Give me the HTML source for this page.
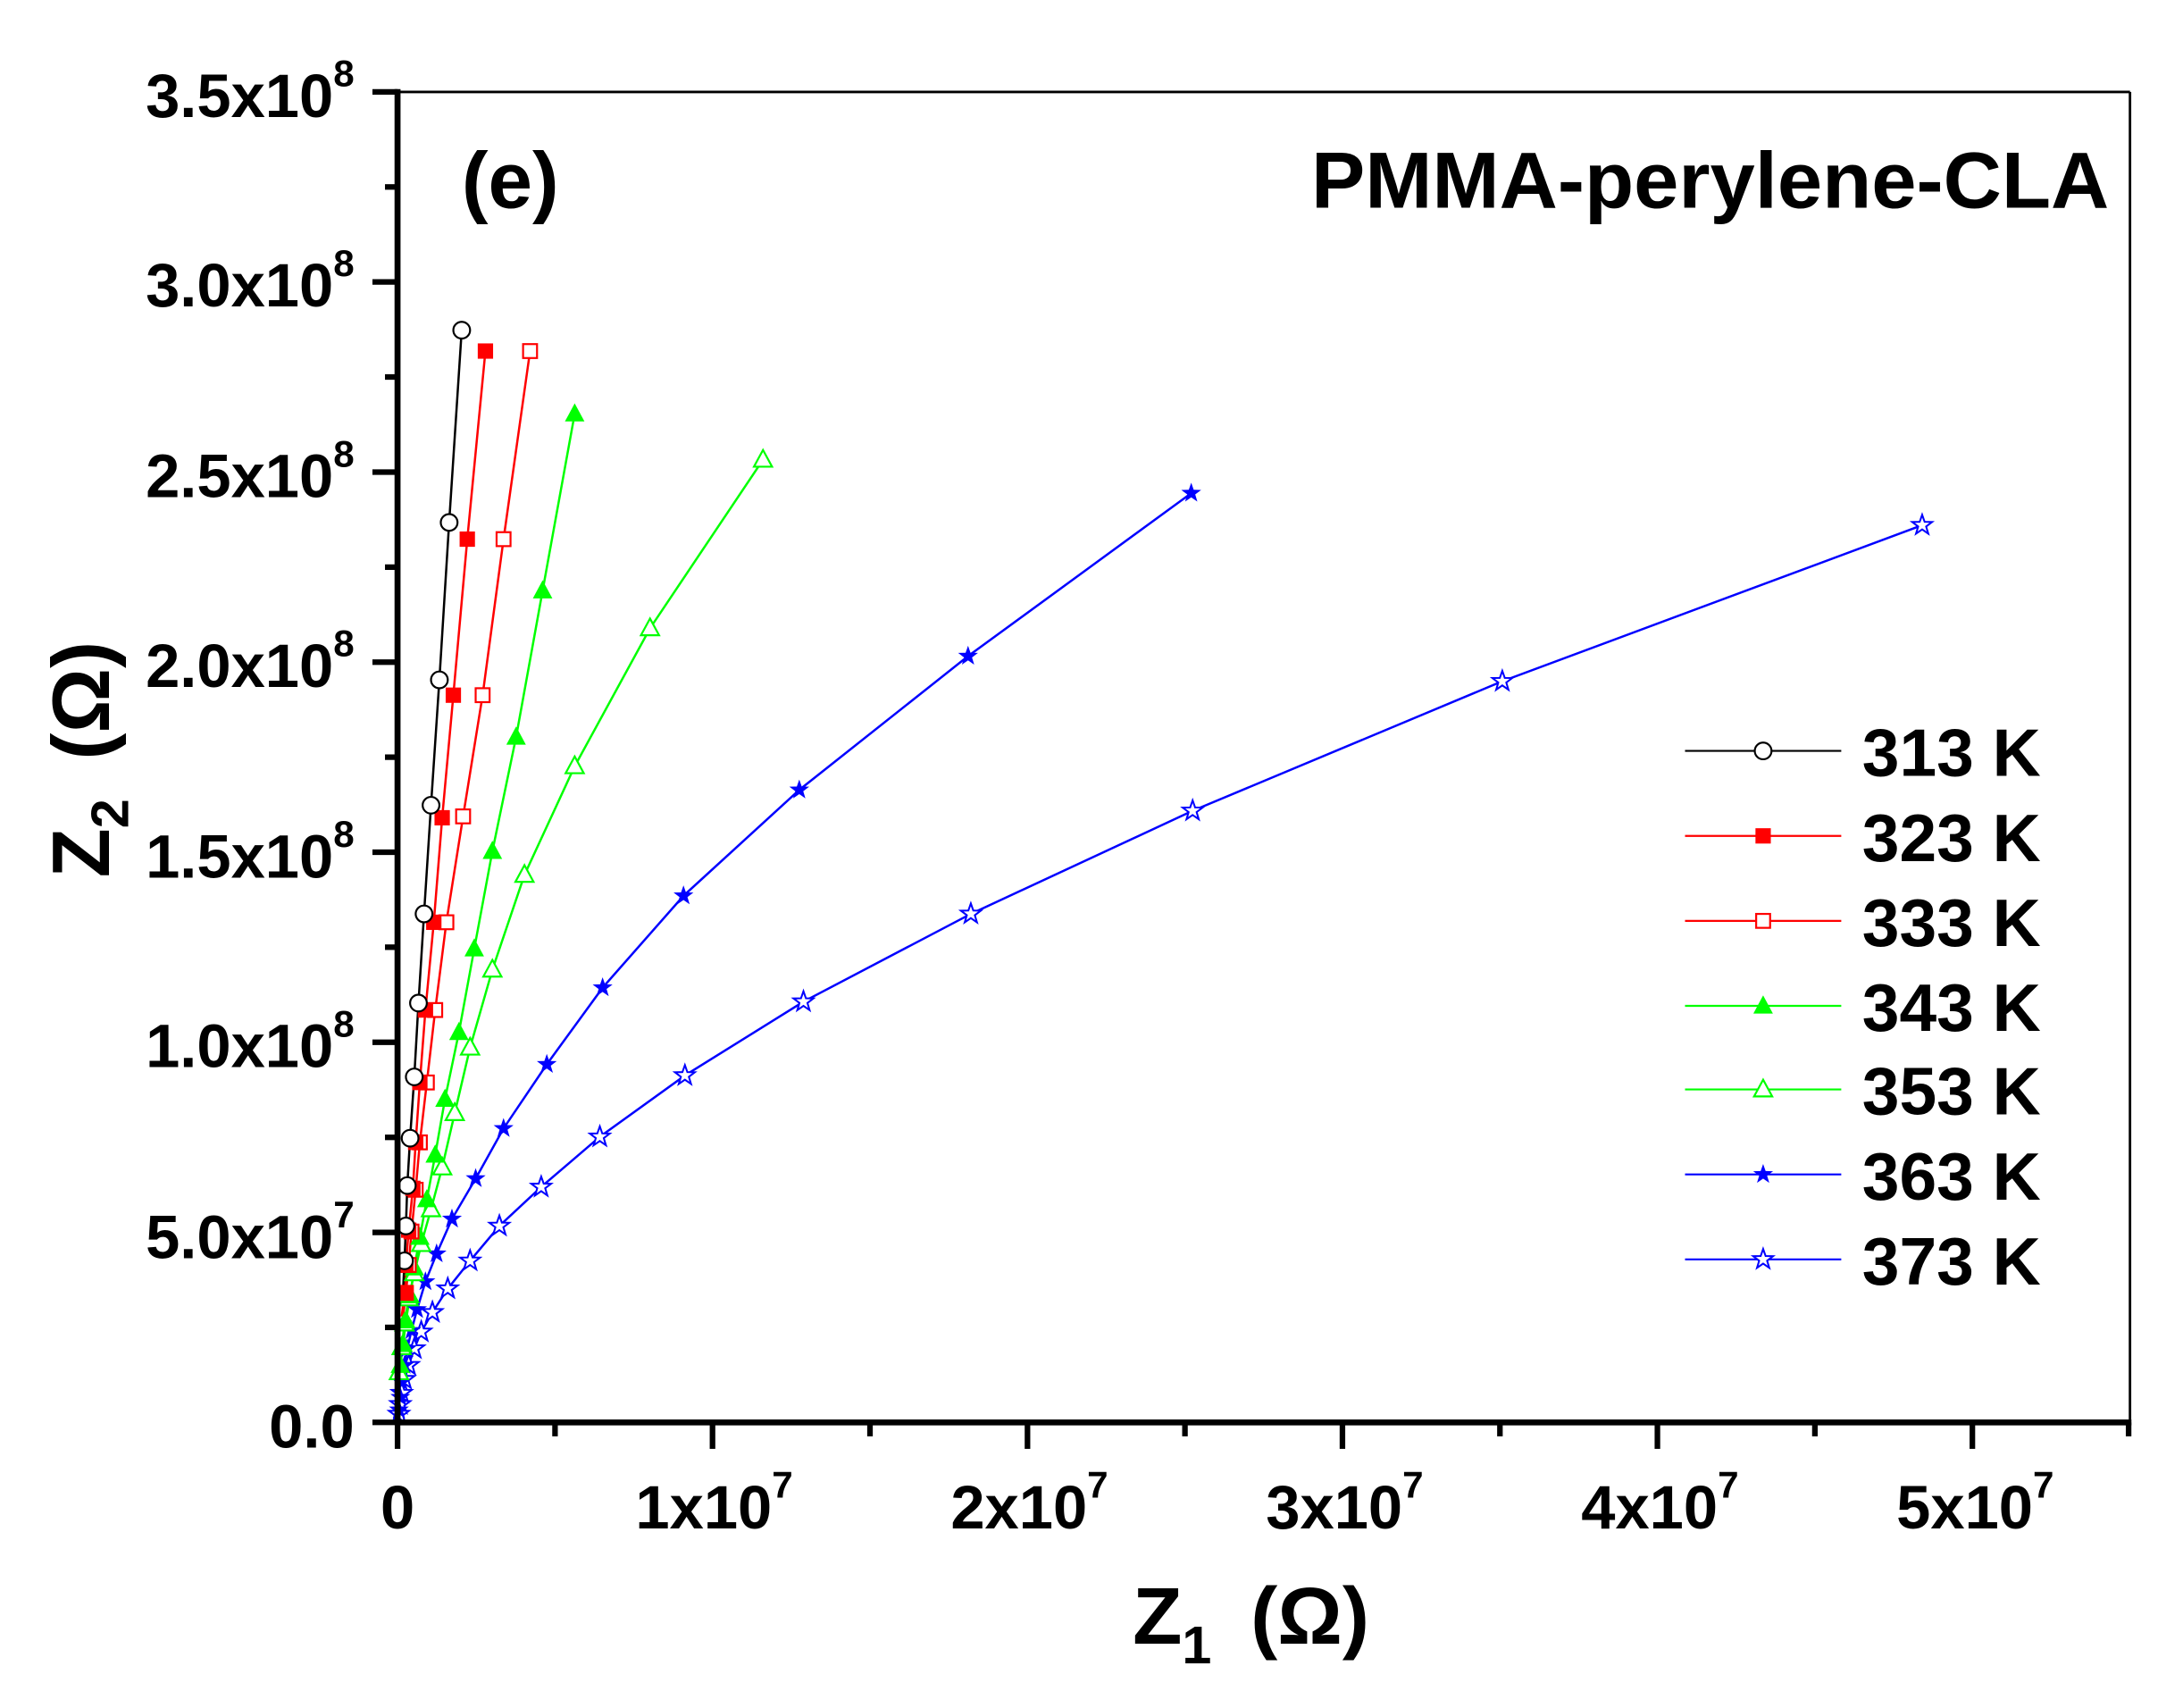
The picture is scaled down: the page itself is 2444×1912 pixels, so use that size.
<!DOCTYPE html>
<html><head><meta charset="utf-8"><style>
html,body{margin:0;padding:0;background:#fff;}
svg{display:block;}
text{font-family:"Liberation Sans",Arial,sans-serif;font-weight:bold;fill:#000;}
</style></head><body>
<svg width="2444" height="1912" viewBox="0 0 1565 1226" preserveAspectRatio="none" xmlns="http://www.w3.org/2000/svg">
<defs>
<circle id="circ" r="6" fill="#fff" stroke="#000" stroke-width="1.4"/>
<rect id="sqf" x="-5.5" y="-5.5" width="11" height="11" fill="#f00"/>
<rect id="sqo" x="-5" y="-5" width="10" height="10" fill="#fff" stroke="#f00" stroke-width="1.4"/>
<polygon id="trif" points="0,-7.5 7,5.5 -7,5.5" fill="#0f0"/>
<polygon id="trio" points="0,-7 6.5,5 -6.5,5" fill="#fff" stroke="#0f0" stroke-width="1.4"/>
<polygon id="starf" points="0,-7.5 1.77,-2.43 7.13,-2.32 2.85,0.93 4.4,6.07 0,3 -4.4,6.07 -2.85,0.93 -7.13,-2.32 -1.77,-2.43" fill="#00f"/>
<polygon id="staro" points="0,-7.5 1.77,-2.43 7.13,-2.32 2.85,0.93 4.4,6.07 0,3 -4.4,6.07 -2.85,0.93 -7.13,-2.32 -1.77,-2.43" fill="#fff" stroke="#00f" stroke-width="1.3"/>
</defs>

<line x1="285" y1="66" x2="1527" y2="66" stroke="#000" stroke-width="1.8"/>
<line x1="1527" y1="66" x2="1527" y2="1021" stroke="#000" stroke-width="1.8"/>

<polyline fill="none" stroke="#00f" stroke-width="1.6" points="1378,377 1077,489 855,582 696,656 576,719 491,772 430,816 388,852 358,880 337,905 321,925 310,942 302,956 297,968 293,980 290,990 288,1000 287,1008 286,1015 285,1020"/>
<polyline fill="none" stroke="#00f" stroke-width="1.6" points="854,354 694,471 573,567 490,643 432,709 392,764 361,810 341,846 324,875 313,900 305,920 299,940 295,955 292,968 290,980 288,992 287,1003 286,1012 285,1020"/>
<polyline fill="none" stroke="#0f0" stroke-width="1.6" points="547,330 466,451 412,550 376,628 353,696 337,752 326,799 317,838 309,868 302,893 297,914 293,932 290,950 288,967 286,985 285,1000"/>
<polyline fill="none" stroke="#0f0" stroke-width="1.6" points="412,297 389,424 370,529 353,611 340,681 329,741 319,789 312,829 306,861 301,888 297,910 294,930 291,948 289,965 287,980 286,995"/>
<polyline fill="none" stroke="#f00" stroke-width="1.6" points="380,252 361,387 346,499 332,586 320,662 312,725 306,777 301,820 298,854 295,884 293,908 291,928 289,945"/>
<polyline fill="none" stroke="#f00" stroke-width="1.6" points="348,252 335,387 325,499 317,587 311,662 305,725 301,777 298,820 296,853 293,883 291,908 290,928 288,945"/>
<polyline fill="none" stroke="#000" stroke-width="1.6" points="331,237 322,375 315,488 309,578 304,656 300,720 297,773 294,817 292,851 291,880 290,905 289,925"/>

<g>
<use href="#staro" x="1378" y="377"/><use href="#staro" x="1077" y="489"/><use href="#staro" x="855" y="582"/><use href="#staro" x="696" y="656"/><use href="#staro" x="576" y="719"/><use href="#staro" x="491" y="772"/><use href="#staro" x="430" y="816"/><use href="#staro" x="388" y="852"/><use href="#staro" x="358" y="880"/><use href="#staro" x="337" y="905"/><use href="#staro" x="321" y="925"/><use href="#staro" x="310" y="942"/><use href="#staro" x="302" y="956"/><use href="#staro" x="297" y="968"/><use href="#staro" x="293" y="980"/><use href="#staro" x="290" y="990"/><use href="#staro" x="288" y="1000"/><use href="#staro" x="287" y="1008"/><use href="#staro" x="286" y="1015"/>
<use href="#starf" x="854" y="354"/><use href="#starf" x="694" y="471"/><use href="#starf" x="573" y="567"/><use href="#starf" x="490" y="643"/><use href="#starf" x="432" y="709"/><use href="#starf" x="392" y="764"/><use href="#starf" x="361" y="810"/><use href="#starf" x="341" y="846"/><use href="#starf" x="324" y="875"/><use href="#starf" x="313" y="900"/><use href="#starf" x="305" y="920"/><use href="#starf" x="299" y="940"/><use href="#starf" x="295" y="955"/><use href="#starf" x="292" y="968"/><use href="#starf" x="290" y="980"/><use href="#starf" x="288" y="992"/><use href="#starf" x="287" y="1003"/><use href="#starf" x="286" y="1012"/>
<use href="#trio" x="547" y="330"/><use href="#trio" x="466" y="451"/><use href="#trio" x="412" y="550"/><use href="#trio" x="376" y="628"/><use href="#trio" x="353" y="696"/><use href="#trio" x="337" y="752"/><use href="#trio" x="326" y="799"/><use href="#trio" x="317" y="838"/><use href="#trio" x="309" y="868"/><use href="#trio" x="302" y="893"/><use href="#trio" x="297" y="914"/><use href="#trio" x="293" y="932"/><use href="#trio" x="290" y="950"/><use href="#trio" x="288" y="967"/><use href="#trio" x="286" y="985"/>
<use href="#trif" x="412" y="297"/><use href="#trif" x="389" y="424"/><use href="#trif" x="370" y="529"/><use href="#trif" x="353" y="611"/><use href="#trif" x="340" y="681"/><use href="#trif" x="329" y="741"/><use href="#trif" x="319" y="789"/><use href="#trif" x="312" y="829"/><use href="#trif" x="306" y="861"/><use href="#trif" x="301" y="888"/><use href="#trif" x="297" y="910"/><use href="#trif" x="294" y="930"/><use href="#trif" x="291" y="948"/><use href="#trif" x="289" y="965"/><use href="#trif" x="287" y="980"/>
<use href="#sqo" x="380" y="252"/><use href="#sqo" x="361" y="387"/><use href="#sqo" x="346" y="499"/><use href="#sqo" x="332" y="586"/><use href="#sqo" x="320" y="662"/><use href="#sqo" x="312" y="725"/><use href="#sqo" x="306" y="777"/><use href="#sqo" x="301" y="820"/><use href="#sqo" x="298" y="854"/><use href="#sqo" x="295" y="884"/><use href="#sqo" x="293" y="908"/><use href="#sqo" x="291" y="928"/>
<use href="#sqf" x="348" y="252"/><use href="#sqf" x="335" y="387"/><use href="#sqf" x="325" y="499"/><use href="#sqf" x="317" y="587"/><use href="#sqf" x="311" y="662"/><use href="#sqf" x="305" y="725"/><use href="#sqf" x="301" y="777"/><use href="#sqf" x="298" y="820"/><use href="#sqf" x="296" y="853"/><use href="#sqf" x="293" y="883"/><use href="#sqf" x="291" y="908"/><use href="#sqf" x="290" y="928"/>
<use href="#circ" x="331" y="237"/><use href="#circ" x="322" y="375"/><use href="#circ" x="315" y="488"/><use href="#circ" x="309" y="578"/><use href="#circ" x="304" y="656"/><use href="#circ" x="300" y="720"/><use href="#circ" x="297" y="773"/><use href="#circ" x="294" y="817"/><use href="#circ" x="292" y="851"/><use href="#circ" x="291" y="880"/><use href="#circ" x="290" y="905"/>
</g>

<line x1="285" y1="64" x2="285" y2="1023" stroke="#000" stroke-width="4.3"/>
<line x1="283" y1="1021" x2="1528" y2="1021" stroke="#000" stroke-width="4.3"/>
<g stroke="#000" stroke-width="4">
<line x1="267" y1="66" x2="285" y2="66"/><line x1="267" y1="202.4" x2="285" y2="202.4"/><line x1="267" y1="338.9" x2="285" y2="338.9"/><line x1="267" y1="475.3" x2="285" y2="475.3"/><line x1="267" y1="611.7" x2="285" y2="611.7"/><line x1="267" y1="748.1" x2="285" y2="748.1"/><line x1="267" y1="884.6" x2="285" y2="884.6"/><line x1="267" y1="1021" x2="285" y2="1021"/>
<line x1="276" y1="134.2" x2="285" y2="134.2"/><line x1="276" y1="270.6" x2="285" y2="270.6"/><line x1="276" y1="407.1" x2="285" y2="407.1"/><line x1="276" y1="543.5" x2="285" y2="543.5"/><line x1="276" y1="679.9" x2="285" y2="679.9"/><line x1="276" y1="816.4" x2="285" y2="816.4"/><line x1="276" y1="952.8" x2="285" y2="952.8"/>
<line x1="285" y1="1021" x2="285" y2="1040"/><line x1="510.8" y1="1021" x2="510.8" y2="1040"/><line x1="736.6" y1="1021" x2="736.6" y2="1040"/><line x1="962.4" y1="1021" x2="962.4" y2="1040"/><line x1="1188.2" y1="1021" x2="1188.2" y2="1040"/><line x1="1414" y1="1021" x2="1414" y2="1040"/>
<line x1="397.9" y1="1021" x2="397.9" y2="1031"/><line x1="623.7" y1="1021" x2="623.7" y2="1031"/><line x1="849.5" y1="1021" x2="849.5" y2="1031"/><line x1="1075.3" y1="1021" x2="1075.3" y2="1031"/><line x1="1301.1" y1="1021" x2="1301.1" y2="1031"/><line x1="1526" y1="1021" x2="1526" y2="1031"/>
</g>

<g font-size="44" text-anchor="end">
<text x="254" y="84">3.5x10<tspan font-size="27" dy="-22">8</tspan></text>
<text x="254" y="220">3.0x10<tspan font-size="27" dy="-22">8</tspan></text>
<text x="254" y="357">2.5x10<tspan font-size="27" dy="-22">8</tspan></text>
<text x="254" y="493">2.0x10<tspan font-size="27" dy="-22">8</tspan></text>
<text x="254" y="630">1.5x10<tspan font-size="27" dy="-22">8</tspan></text>
<text x="254" y="766">1.0x10<tspan font-size="27" dy="-22">8</tspan></text>
<text x="254" y="903">5.0x10<tspan font-size="27" dy="-22">7</tspan></text>
<text x="254" y="1039">0.0</text>
</g>
<g font-size="44" text-anchor="middle">
<text x="285" y="1097">0</text>
<text x="512" y="1097">1x10<tspan font-size="27" dy="-22">7</tspan></text>
<text x="738" y="1097">2x10<tspan font-size="27" dy="-22">7</tspan></text>
<text x="964" y="1097">3x10<tspan font-size="27" dy="-22">7</tspan></text>
<text x="1190" y="1097">4x10<tspan font-size="27" dy="-22">7</tspan></text>
<text x="1416" y="1097">5x10<tspan font-size="27" dy="-22">7</tspan></text>
</g>

<text x="812" y="1180" font-size="58">Z<tspan font-size="38" dy="14">1</tspan><tspan dy="-14" dx="28">(Ω)</tspan></text>
<text transform="translate(78,630) rotate(-90)" font-size="58">Z<tspan font-size="38" dy="14">2</tspan><tspan dy="-14" dx="28">(Ω)</tspan></text>

<text x="331" y="149" font-size="57">(e)</text>
<text x="940" y="149" font-size="57" textLength="572" lengthAdjust="spacingAndGlyphs">PMMA-perylene-CLA</text>

<g stroke-width="1.4">
<line x1="1208" y1="539" x2="1320" y2="539" stroke="#000"/>
<line x1="1208" y1="600" x2="1320" y2="600" stroke="#f00"/>
<line x1="1208" y1="661" x2="1320" y2="661" stroke="#f00"/>
<line x1="1208" y1="722" x2="1320" y2="722" stroke="#0f0"/>
<line x1="1208" y1="782" x2="1320" y2="782" stroke="#0f0"/>
<line x1="1208" y1="843" x2="1320" y2="843" stroke="#00f"/>
<line x1="1208" y1="904" x2="1320" y2="904" stroke="#00f"/>
</g>
<use href="#circ" x="1264" y="539"/><use href="#sqf" x="1264" y="600"/><use href="#sqo" x="1264" y="661"/><use href="#trif" x="1264" y="722"/><use href="#trio" x="1264" y="782"/><use href="#starf" x="1264" y="843"/><use href="#staro" x="1264" y="904"/>
<g font-size="48">
<text x="1335" y="557">313 K</text>
<text x="1335" y="618">323 K</text>
<text x="1335" y="679">333 K</text>
<text x="1335" y="740">343 K</text>
<text x="1335" y="800">353 K</text>
<text x="1335" y="861">363 K</text>
<text x="1335" y="922">373 K</text>
</g>
</svg>
</body></html>
